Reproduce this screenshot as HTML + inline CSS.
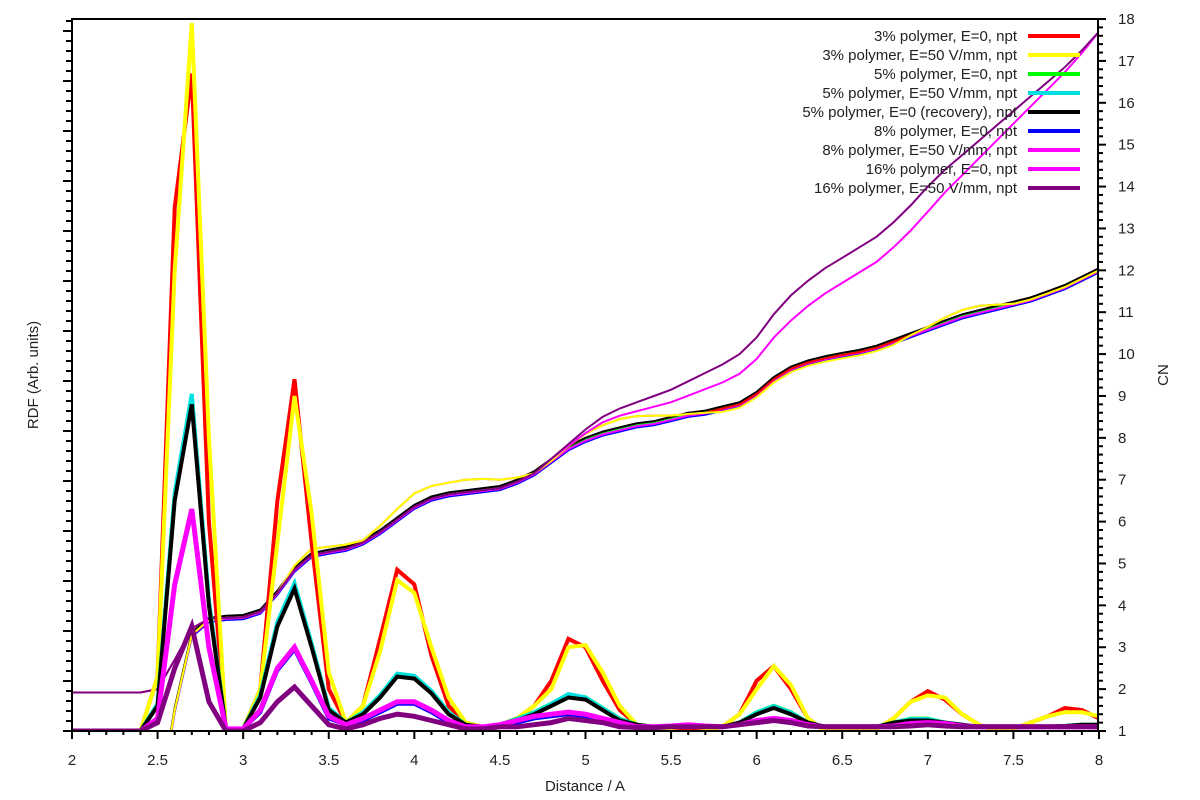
<!DOCTYPE html>
<html><head><meta charset="utf-8">
<style>
html,body{margin:0;padding:0;background:#fff;width:1200px;height:800px;overflow:hidden;}
svg{display:block;font-family:"Liberation Sans",sans-serif;}
</style></head>
<body>
<svg id="s" width="1200" height="800" xmlns="http://www.w3.org/2000/svg">
<defs><clipPath id="c"><rect x="72" y="19" width="1027" height="712"/></clipPath></defs>
<g id="plot" clip-path="url(#c)"></g>
<g id="axes" stroke="#000" stroke-width="2" fill="none"></g>
<g id="lab" font-size="15" fill="#222"></g>
<text x="585" y="791" font-size="15" text-anchor="middle" fill="#222">Distance / A</text>
<text transform="translate(38,375) rotate(-90)" font-size="15" text-anchor="middle" fill="#222">RDF (Arb. units)</text>
<text transform="translate(1168,375) rotate(-90)" font-size="15" text-anchor="middle" fill="#222">CN</text>
<g id="leg" font-size="15" fill="#222" text-anchor="end"></g>
</svg>
<script>
var NS="http://www.w3.org/2000/svg";
function X(x){return 72+(x-2)*1027/6;}
function Y(v){return 731-(v-1)*41.88;}
function el(p,t,a){var e=document.createElementNS(NS,t);for(var k in a)e.setAttribute(k,a[k]);p.appendChild(e);return e;}
var plot=document.getElementById('plot'),axes=document.getElementById('axes'),lab=document.getElementById('lab'),leg=document.getElementById('leg');
function fill(pts){var a=[];for(var i=0;i<=60;i++){var x=2+i/10;var v=1;for(var j=0;j<pts.length;j+=2){if(Math.abs(pts[j]-x)<1e-6)v=pts[j+1];}a.push(v);}return a;}
var red=fill([2.5,2.3,2.6,13.5,2.7,16.7,2.8,6,2.9,1,3.0,1.05,3.1,2,3.2,6.5,3.3,9.4,3.4,5.5,3.5,2.0,3.6,1.2,3.7,1.6,3.8,3.2,3.9,4.85,4.0,4.5,4.1,2.8,4.2,1.6,4.3,1.2,4.4,1.1,4.5,1.15,4.6,1.3,4.7,1.6,4.8,2.2,4.9,3.2,5.0,3.0,5.1,2.2,5.2,1.5,5.3,1.15,5.4,1.1,5.5,1.05,5.6,1.0,5.7,1.05,5.8,1.1,5.9,1.4,6.0,2.2,6.1,2.55,6.2,2.0,6.3,1.3,6.4,1.0,6.5,1.0,6.6,1.0,6.7,1.05,6.8,1.3,6.9,1.7,7.0,1.95,7.1,1.75,7.2,1.4,7.3,1.15,7.4,1.0,7.5,1.05,7.6,1.2,7.7,1.35,7.8,1.55,7.9,1.5,8.0,1.3]);
var yel=red.slice();
[[2.6,12],[2.7,17.9],[2.8,8],[3.2,5.5],[3.3,9.0],[3.4,6.2],[3.5,2.4],[3.8,2.9],[3.9,4.6],[4.0,4.3],[4.1,3.0],[4.2,1.8],[4.8,2.0],[4.9,3.0],[5.0,3.05],[5.1,2.4],[5.2,1.6],[6.0,2.0],[6.1,2.55],[6.2,2.1],[7.0,1.85],[7.1,1.8],[7.8,1.45],[7.9,1.45],[8.0,1.35],[5.5,1.0],[5.6,0.95],[5.7,1.0]].forEach(function(p){yel[Math.round((p[0]-2)*10)]=p[1];});
var blk=fill([2.5,1.6,2.6,6.5,2.7,8.8,2.8,4,2.9,1.05,3.0,1.05,3.1,1.8,3.2,3.5,3.3,4.4,3.4,3.0,3.5,1.5,3.6,1.2,3.7,1.4,3.8,1.8,3.9,2.3,4.0,2.25,4.1,1.9,4.2,1.4,4.3,1.15,4.4,1.1,4.5,1.15,4.6,1.25,4.7,1.4,4.8,1.6,4.9,1.8,5.0,1.75,5.1,1.5,5.2,1.25,5.3,1.15,5.4,1.1,5.5,1.1,5.6,1.1,5.7,1.1,5.8,1.1,5.9,1.2,6.0,1.4,6.1,1.55,6.2,1.4,6.3,1.2,6.4,1.1,6.5,1.1,6.6,1.1,6.7,1.1,6.8,1.2,6.9,1.25,7.0,1.25,7.1,1.2,7.2,1.15,7.3,1.1,7.4,1.1,7.5,1.1,7.6,1.1,7.7,1.1,7.8,1.12,7.9,1.15,8.0,1.15]);
var grn=blk.map(function(v,i){return v>1.2?v*1.02+0.02:v;});
var cyn=blk.map(function(v,i){return v>1.2?v*1.03:v;});cyn[7]=9.05;cyn[29]=1.88;
var mag=fill([2.5,1.3,2.6,4.5,2.7,6.3,2.8,3,2.9,1.05,3.0,1.05,3.1,1.5,3.2,2.5,3.3,3.0,3.4,2.2,3.5,1.35,3.6,1.15,3.7,1.3,3.8,1.5,3.9,1.7,4.0,1.7,4.1,1.5,4.2,1.25,4.3,1.1,4.4,1.1,4.5,1.15,4.6,1.25,4.7,1.35,4.8,1.4,4.9,1.45,5.0,1.4,5.1,1.3,5.2,1.2,5.3,1.1,5.4,1.1,5.5,1.12,5.6,1.15,5.7,1.12,5.8,1.1,5.9,1.15,6.0,1.25,6.1,1.3,6.2,1.25,6.3,1.15,6.4,1.1,6.5,1.1,6.6,1.1,6.7,1.1,6.8,1.12,6.9,1.18,7.0,1.2,7.1,1.18,7.2,1.12,7.3,1.1,7.4,1.1,7.5,1.1,7.6,1.1,7.7,1.1,7.8,1.1,7.9,1.1,8.0,1.1]);
var blu=mag.map(function(v){return v>1.2?v-0.05:v;});
var pur=fill([2.5,1.2,2.6,2.5,2.7,3.5,2.8,1.7,2.9,1.0,3.0,1.0,3.1,1.2,3.2,1.7,3.3,2.05,3.4,1.6,3.5,1.15,3.6,1.05,3.7,1.15,3.8,1.3,3.9,1.4,4.0,1.35,4.1,1.25,4.2,1.15,4.3,1.05,4.4,1.05,4.5,1.1,4.6,1.1,4.7,1.15,4.8,1.2,4.9,1.3,5.0,1.25,5.1,1.2,5.2,1.1,5.3,1.08,5.4,1.08,5.5,1.1,5.6,1.1,5.7,1.1,5.8,1.1,5.9,1.15,6.0,1.2,6.1,1.25,6.2,1.2,6.3,1.12,6.4,1.1,6.5,1.1,6.6,1.1,6.7,1.1,6.8,1.1,6.9,1.12,7.0,1.15,7.1,1.12,7.2,1.1,7.3,1.1,7.4,1.1,7.5,1.1,7.6,1.1,7.7,1.1,7.8,1.1,7.9,1.1,8.0,1.1]);
var oth=[-2,-2,-2,-2,-2,-1,1.5,3.3,3.65,3.7,3.72,3.85,4.3,4.85,5.2,5.28,5.35,5.5,5.75,6.05,6.35,6.55,6.65,6.7,6.75,6.8,6.95,7.15,7.45,7.75,7.95,8.1,8.2,8.3,8.35,8.45,8.55,8.6,8.7,8.8,9.05,9.4,9.65,9.8,9.9,9.98,10.05,10.15,10.3,10.45,10.6,10.75,10.9,11.0,11.1,11.2,11.3,11.45,11.6,11.8,12.0];
var pcn=oth.slice();
[1.92,1.92,1.92,1.92,1.92,2.0,2.7,3.45,3.68].forEach(function(v,i){pcn[i]=v;});
var tail=[7.5,7.85,8.2,8.5,8.7,8.85,9.0,9.15,9.35,9.55,9.75,10.0,10.4,10.95,11.4,11.75,12.05,12.3,12.55,12.8,13.15,13.55,14.0,14.4,14.75,15.1,15.45,15.8,16.15,16.5,16.85,17.25,17.7];
tail.forEach(function(v,i){pcn[28+i]=v;});
var mcn=pcn.map(function(v,i){var x=2+i/10;var o=x<4.8?0:x<6.2?(x-4.8)/1.4*0.6:x<7?0.6:0.6*(8-x);return v-o;});
var roff={13:0.1,14:0.15,15:0.12,16:0.1,17:0.05,18:0.15,19:0.25,20:0.32,21:0.3,22:0.28,23:0.3,24:0.27,25:0.2,26:0.1,27:0.0,28:0.0,29:0.05,30:0.15,31:0.2,32:0.25,33:0.22,34:0.18,35:0.08,36:0.02,50:0.05,51:0.12,52:0.15,53:0.15,54:0.08};
var rcn=oth.map(function(v,i){return v+(roff[i]||0);});
var ycn=rcn.map(function(v,i){var x=2+i/10;return (x>5.7&&x<6.9)?v-0.08:v;});
function path(a,col,w){var d='';for(var i=0;i<a.length;i++){d+=(i?'L':'M')+X(2+i/10).toFixed(1)+','+Y(a[i]).toFixed(1);}el(plot,'path',{d:d,stroke:col,'stroke-width':w,fill:'none'});}
path(oth.map(function(v){return v-0.05}),'#0000ff',2);
path(oth,'#00ffff',2);
path(oth.map(function(v){return v+0.03}),'#00ff00',2);
path(oth.map(function(v){return v+0.05}),'#000',2);
path(oth.map(function(v){return v-0.02}),'#ff00ff',2);
path(rcn,'#ff0000',2);
path(ycn,'#ffff00',2);
path(mcn,'#ff00ff',2);
path(pcn,'#800080',2);
path(red,'#ff0000',4);
path(yel,'#ffff00',4);
path(grn,'#00ff00',4);
path(cyn,'#00e0e0',4);
path(blk,'#000',4);
path(blu,'#0000ff',4);
path(mag,'#ff00ff',5);
path(pur,'#800080',5);
el(axes,'path',{d:'M72,19H1098V731H72Z'});
var t;
for(var i=0;i<=60;i++){var x=X(2+i/10);var maj=i%5==0;el(axes,'line',{x1:x,y1:731,x2:x,y2:maj?739:735});
 if(maj){t=el(lab,'text',{x:x,y:765,'text-anchor':'middle'});t.textContent=String(+(2+i/10).toFixed(1));}}
for(var v=1;v<=18.001;v+=0.2){var y=Y(v);var maj=Math.abs(v-Math.round(v))<0.01;el(axes,'line',{x1:1098,y1:y,x2:maj?1106:1103,y2:y});
 if(maj){t=el(lab,'text',{x:1118,y:y+5});t.textContent=String(Math.round(v));}}
for(var y=731,k=0;y>=19;y-=10,k++){el(axes,'line',{x1:72,y1:y,x2:k%5==0?63:66,y2:y});}
var L=[["3% polymer, E=0, npt","#ff0000"],["3% polymer, E=50 V/mm, npt","#ffff00"],["5% polymer, E=0, npt","#00ff00"],["5% polymer, E=50 V/mm, npt","#00e0e0"],["5% polymer, E=0 (recovery), npt","#000"],["8% polymer, E=0, npt","#0000ff"],["8% polymer, E=50 V/mm, npt","#ff00ff"],["16% polymer, E=0, npt","#ff00ff"],["16% polymer, E=50 V/mm, npt","#800080"]];
L.forEach(function(l,i){var y=36+i*19;t=el(leg,'text',{x:1017,y:y+5});t.textContent=l[0];el(leg,'rect',{x:1028,y:y-2,width:52,height:4,fill:l[1]});});
</script>
</body></html>
